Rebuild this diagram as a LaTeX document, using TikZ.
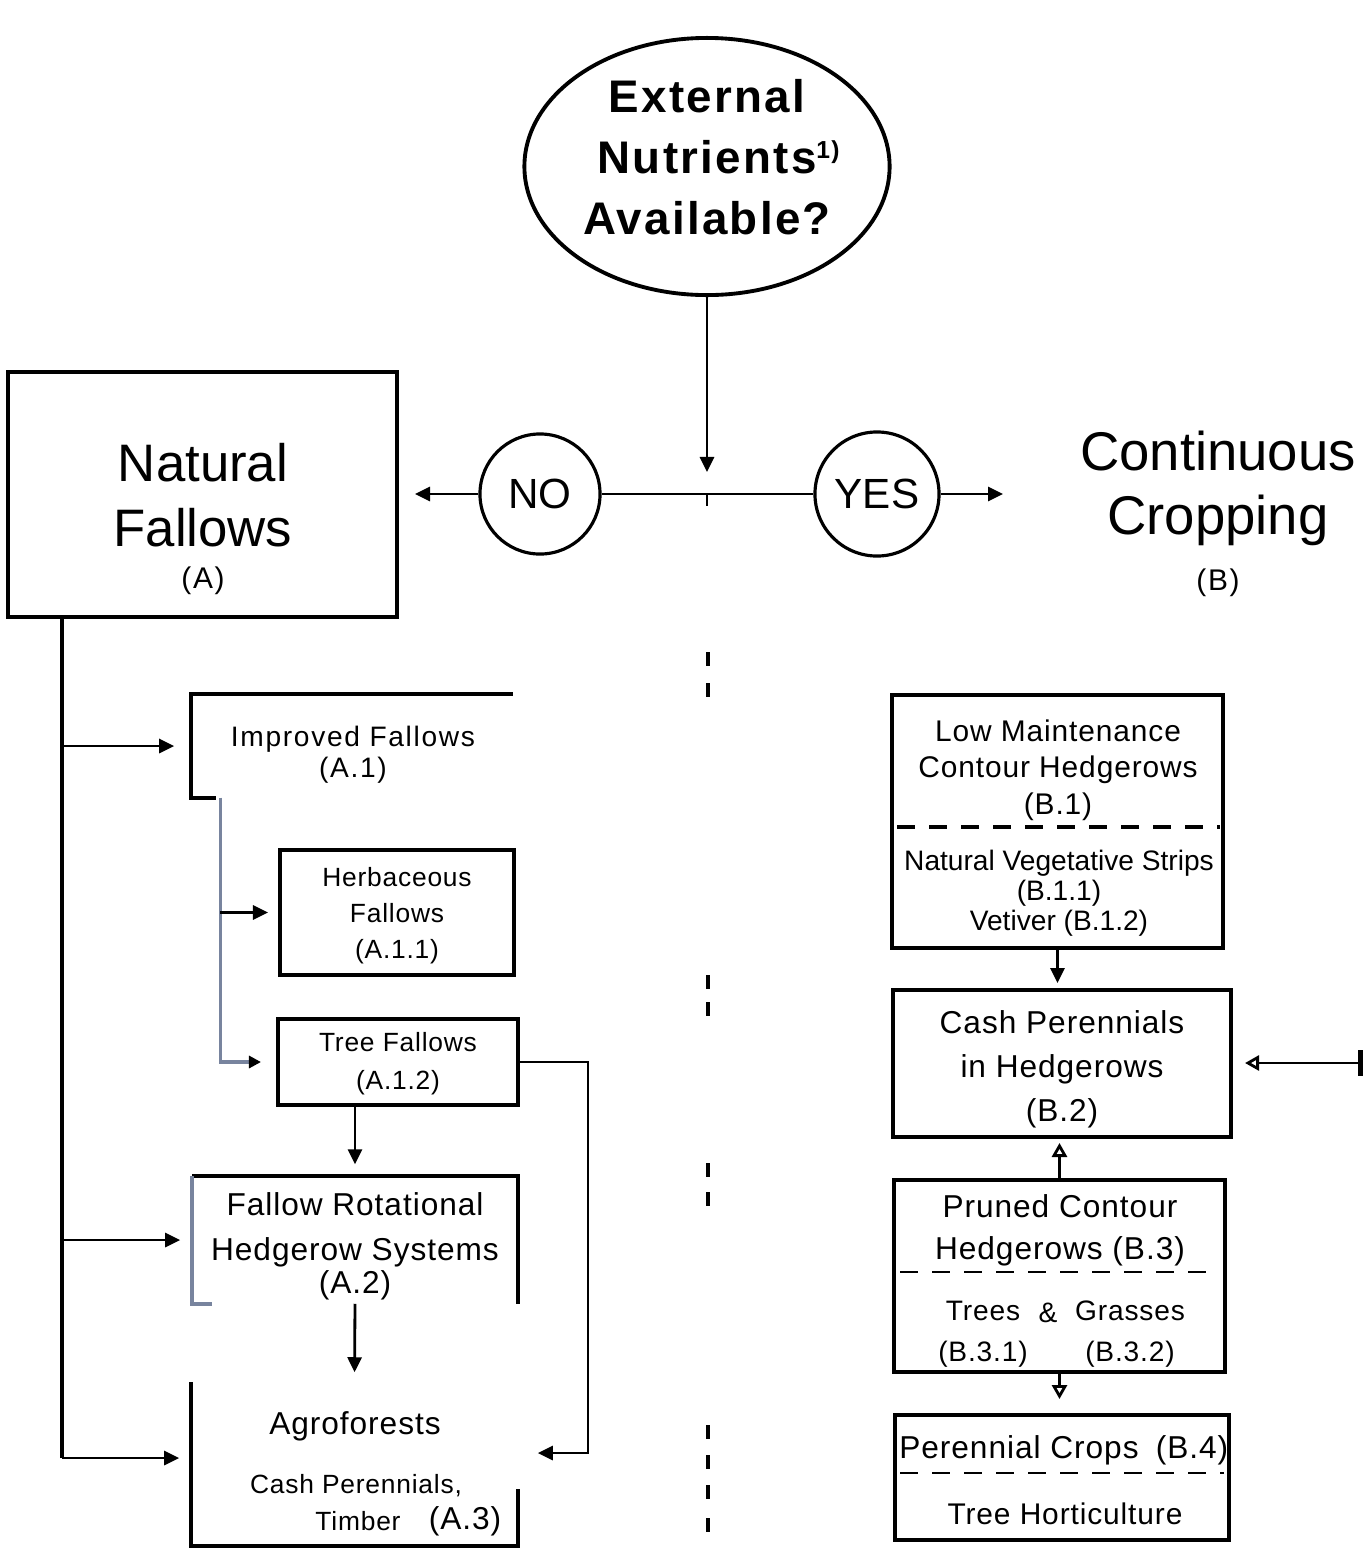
\documentclass[tikz,border=0pt]{standalone}
\usepackage{fontspec}
\setmainfont{Liberation Sans}
\newfontfamily\boxfont[LetterSpace=3]{Liberation Sans}
\newfontfamily\widefont[LetterSpace=6]{Liberation Sans}
\newfontfamily\ellfont[LetterSpace=5]{Liberation Sans}
\usepackage{tikz}
\usetikzlibrary{arrows.meta,shapes.geometric,calc}
\definecolor{scanblue}{RGB}{120,132,158}
\newcommand{\schrift}[2]{\fontsize{#1}{#2}\selectfont}

\begin{document}
\begin{tikzpicture}[x=0.01cm,y=-0.01cm,
	box/.style={draw,line width=1.1pt,inner sep=0pt},
	hidden/.style={inner sep=0pt},
	txt/.style={align=center,inner sep=0pt,yshift=-0.03cm},
	conn/.style={line width=0.8pt,-{Triangle[length=0.15cm,width=0.14cm]}},
	openconn/.style={line width=0.8pt,-{Triangle[open,length=0.14cm,width=0.15cm,line width=0.8pt]}},
	trennlinie/.style={line width=0.9pt,dash pattern=on 0.18cm off 0.14cm}]
	\useasboundingbox (0,0) rectangle (1367,1548);
	%Frage oben
	\node[ellipse,draw,line width=1.1pt,minimum width=3.65cm,minimum height=2.57cm,inner sep=0pt] (frage) at (707,166.5) {};
	\node[txt,font=\ellfont\bfseries\schrift{13}{17.3}] (fragetext) at (707,154)
		{External\\Nutrients\rlap{\textsuperscript{\schrift{7}{7}1)}}\\Available?};
	\coordinate (split) at (707,494);
	\node[circle,draw,line width=0.9pt,minimum size=1.2cm,inner sep=0pt,font=\schrift{12}{14}] (no) at (540,494) {NO};
	\node[circle,draw,line width=0.9pt,minimum size=1.24cm,inner sep=0pt,font=\schrift{12}{14}] (yes) at (877,494) {YES};
	\coordinate (noend) at (415,494);
	\coordinate (yesend) at (1003,494);
	\draw[conn,shorten >=0.22cm] (frage) -- (split);
	\draw[line width=0.8pt] (no) -- (yes);
	\draw[line width=0.8pt] (split) -- ++(0,12);
	\draw[conn] (no) -- (noend);
	\draw[conn] (yes) -- (yesend);
	%Hauptgruppen
	\node[box,line width=1.3pt,minimum width=3.89cm,minimum height=2.45cm] (natural) at (202.5,494.5) {};
	\node[txt,font=\schrift{15}{18.5}] (naturaltext) at (203,492) {Natural\\Fallows};
	\node[txt,font=\widefont\schrift{8.5}{10}] (naturalcode) at (203,578) {(A)};
	\node[txt,font=\schrift{15.5}{18.2}] (continuous) at (1218,485) {Continuous\\Cropping};
	\node[txt,font=\widefont\schrift{8.5}{10}] (continuouscode) at (1218,580) {(B)};
	% Mittellinie
	\foreach \y in {652,683,975,1002,1163,1192,1425,1455,1485,1518}
		\draw[line width=1.3pt] (708,\y) -- (708,\y+14);
	%Zweig A
	\node[hidden,minimum width=3.2cm,minimum height=1.02cm] (improved) at (352,746) {};
	\draw[line width=1.1pt] (improved.north east) -- (improved.north west) -- (improved.south west) -- ++(25,0);
	\node[txt,font=\widefont\schrift{8}{8.8}] (improvedtext) at (353,752) {Improved Fallows\\(A.1)};
	\node[box,minimum width=2.34cm,minimum height=1.25cm] (herb) at (397,912.5) {};
	\node[txt,font=\boxfont\schrift{7.5}{10.2}] (herbtext) at (397,913) {Herbaceous\\Fallows\\(A.1.1)};
	\node[box,minimum width=2.4cm,minimum height=0.86cm] (tree) at (398,1062) {};
	\node[txt,font=\boxfont\schrift{7.5}{10.8}] (treetext) at (398,1061) {Tree Fallows\\(A.1.2)};
	\node[hidden,minimum width=3.24cm,minimum height=1.26cm] (rotational) at (355,1240) {};
	\draw[line width=1.1pt] (rotational.north west) -- (rotational.north east) -- (rotational.south east);
	\draw[line width=1.1pt,scanblue] ($(rotational.south west)+(20,0)$) -- (rotational.south west) -- (rotational.north west);
	\node[txt,font=\boxfont\schrift{9}{12.8}] (rotationaltext) at (355,1243) {Fallow Rotational\\Hedgerow Systems\\[-3.5pt](A.2)};
	\node[hidden,minimum width=3.25cm,minimum height=1.62cm] (agro) at (354.5,1464) {};
	\draw[line width=1.1pt] (agro.north west) -- (agro.south west) -- (agro.south east) -- ($(agro.south east)+(0,-57)$);
	\node[txt,font=\boxfont\schrift{9}{11}] (agrotext) at (355,1423) {Agroforests};
	\node[txt,font=\boxfont\schrift{7.5}{9}] (cashtext) at (356,1483) {Cash Perennials,};
	\node[txt,font=\boxfont\schrift{7.5}{9}] (timbertext) at (358,1518) {Timber};
	\node[txt,font=\boxfont\schrift{9}{11}] (agrocode) at (465,1518) {(A.3)};
	%Verbindungen A
	\coordinate (trunk) at (62,1458);
	\draw[line width=0.9pt] (natural.south -| trunk) -- (trunk);
	\draw[conn,shorten >=0.17cm] (improved.west -| trunk) -- (improved.west);
	\draw[conn,shorten >=0.12cm] (rotational.west -| trunk) -- (rotational.west);
	\draw[conn,shorten >=0.12cm] (trunk) -- (trunk -| agro.west);
	\coordinate (grautrunk) at ($(improved.south west)+(29,0)$);
	\draw[line width=0.9pt,scanblue,-{Triangle[length=0.12cm,width=0.12cm,color=black]},shorten >=0.15cm] (grautrunk) |- (tree.west);
	\draw[conn,shorten >=0.1cm] (herb.west -| grautrunk) -- (herb.west);
	\draw[conn,shorten >=0.12cm] (tree.south -| rotational.north) -- (rotational.north);
	\draw[conn,shorten >=0.1cm] (rotational.south) -- (agro.north);
	\coordinate (schleife) at (588,1453);
	\draw[conn,shorten >=0.2cm] (tree.east) -| (schleife) -- (schleife -| agro.east);
	%Zweig B
	\node[box,minimum width=3.31cm,minimum height=2.53cm] (b1) at (1057.5,821.5) {};
	\node[txt,font=\boxfont\schrift{8.5}{10.4}] (b1text) at (1058,767) {Low Maintenance\\Contour Hedgerows\\(B.1)};
	\draw[trennlinie] (897,827) -- (1220,827);
	\node[txt,font=\schrift{8}{8.6}] (b1sub) at (1059,890) {Natural Vegetative Strips\\(B.1.1)\\Vetiver (B.1.2)};
	\node[box,minimum width=3.38cm,minimum height=1.47cm] (b2) at (1062,1063.5) {};
	\node[txt,font=\boxfont\schrift{9}{12.5}] (b2text) at (1062,1066) {Cash Perennials\\in Hedgerows\\(B.2)};
	\node[box,minimum width=3.31cm,minimum height=1.92cm] (b3) at (1059.5,1276) {};
	\node[txt,font=\boxfont\schrift{9}{12}] (b3text) at (1060,1227) {Pruned Contour\\Hedgerows (B.3)};
	\draw[trennlinie,line width=0.7pt] (900,1272) -- (1220,1272);
	\node[txt,font=\boxfont\schrift{8}{11.7}] (treesb) at (983,1331) {Trees\\(B.3.1)};
	\node[txt,font=\boxfont\schrift{8}{10}] (ampb) at (1048,1310) {\&};
	\node[txt,font=\boxfont\schrift{8}{11.7}] (grassb) at (1130,1331) {Grasses\\(B.3.2)};
	\node[box,minimum width=3.34cm,minimum height=1.25cm] (b4) at (1062,1477.5) {};
	\node[txt,font=\boxfont\schrift{9}{11}] (b4text) at (1019,1447) {Perennial Crops};
	\node[txt,font=\boxfont\schrift{9}{11}] (b4code) at (1192,1447) {(B.4)};
	\draw[trennlinie,line width=0.7pt] (900,1473) -- (1224,1473);
	\node[txt,font=\boxfont\schrift{8.5}{10}] (b4sub) at (1065,1511) {Tree Horticulture};
	%Verbindungen B
	\draw[conn,shorten >=0.05cm] (b1.south) -- (b1.south |- b2.north);
	\draw[openconn,shorten >=0.04cm] (b3.north) -- (b3.north |- b2.south);
	\draw[openconn,shorten >=0.14cm] (b3.south) -- (b3.south |- b4.north);
	\coordinate (rechts) at (1363,1063);
	\draw[line width=0.8pt,{Bar[width=0.26cm,line width=1.4pt]}-{Triangle[open,length=0.14cm,width=0.15cm,line width=0.8pt]},shorten >=0.12cm] (rechts) -- (rechts -| b2.east);
\end{tikzpicture}
\end{document}
